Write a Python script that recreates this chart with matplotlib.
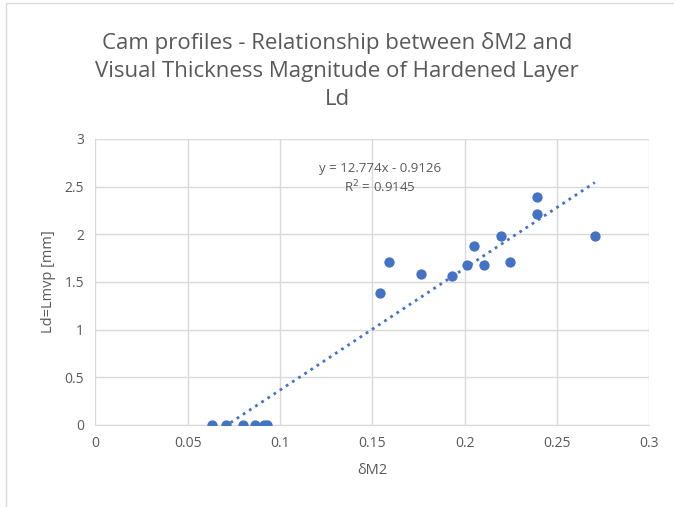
import matplotlib
matplotlib.use("Agg")
import matplotlib.pyplot as plt
from matplotlib.patches import Rectangle
import numpy as np

plt.rcParams['font.family'] = ['Open Sans', 'DejaVu Sans']

# data
dM2 = [0.0633, 0.0706, 0.0801, 0.0865, 0.0913, 0.0931,
       0.1541, 0.1588, 0.1763, 0.1933, 0.2011, 0.2052,
       0.2106, 0.2198, 0.2245, 0.2391, 0.2391, 0.2705]
Ld = [0, 0, 0, 0, 0, 0,
      1.38, 1.71, 1.58, 1.56, 1.68, 1.88,
      1.68, 1.98, 1.71, 2.21, 2.39, 1.98]

# trendline from the chart's own equation
slope, intercept = 12.774, -0.9126
eq_text = "y = 12.774x - 0.9126\nR$^2$ = 0.9145"

xticks = [0, 0.05, 0.1, 0.15, 0.2, 0.25, 0.3]
xlabels = ["0", "0.05", "0.1", "0.15", "0.2", "0.25", "0.3"]
yticks = [0, 0.5, 1, 1.5, 2, 2.5, 3]
ylabels = ["0", "0.5", "1", "1.5", "2", "2.5", "3"]

blue = '#4472C4'
grey = '#595959'
gridc = '#d9d9d9'

fig = plt.figure(figsize=(6.74, 5.07), dpi=100)
ax = fig.add_axes([0.1414, 0.162, 0.822, 0.564])

fig.patches.append(Rectangle((0.009, -0.01), 1.0, 1.004, transform=fig.transFigure,
                             fill=False, edgecolor='#d9d9d9', linewidth=1))

xs = np.array([min(dM2), max(dM2)])
ax.plot(xs, slope * xs + intercept, ':', color=blue, linewidth=2, zorder=2)
ax.scatter(dM2, Ld, s=55, color=blue, zorder=3, linewidths=0)

ax.set_xlim(0, 0.3)
ax.set_ylim(0, 3)
ax.set_xticks(xticks)
ax.set_xticklabels(xlabels)
ax.set_yticks(yticks)
ax.set_yticklabels(ylabels)
ax.grid(True, color=gridc, linewidth=1)
ax.set_axisbelow(True)
for s in ['top', 'right', 'left']:
    ax.spines[s].set_visible(False)
ax.spines['bottom'].set_color(gridc)
ax.tick_params(length=0, labelsize=10, colors=grey, pad=8)

ax.set_xlabel("δM2", fontsize=10.5, color=grey, labelpad=9)
ax.set_ylabel("Ld=Lmvp [mm]", fontsize=10.5, color=grey, labelpad=6)

ax.text(0.154, 2.58, eq_text, ha='center', va='center', fontsize=9.5,
        color=grey, linespacing=1.3)

fig.text(0.5, 0.86, "Cam profiles - Relationship between δM2 and\n"
         "Visual Thickness Magnitude of Hardened Layer\nLd",
         ha='center', va='center', fontsize=16, color=grey, linespacing=1.45)

fig.savefig("out.png", dpi=100)
